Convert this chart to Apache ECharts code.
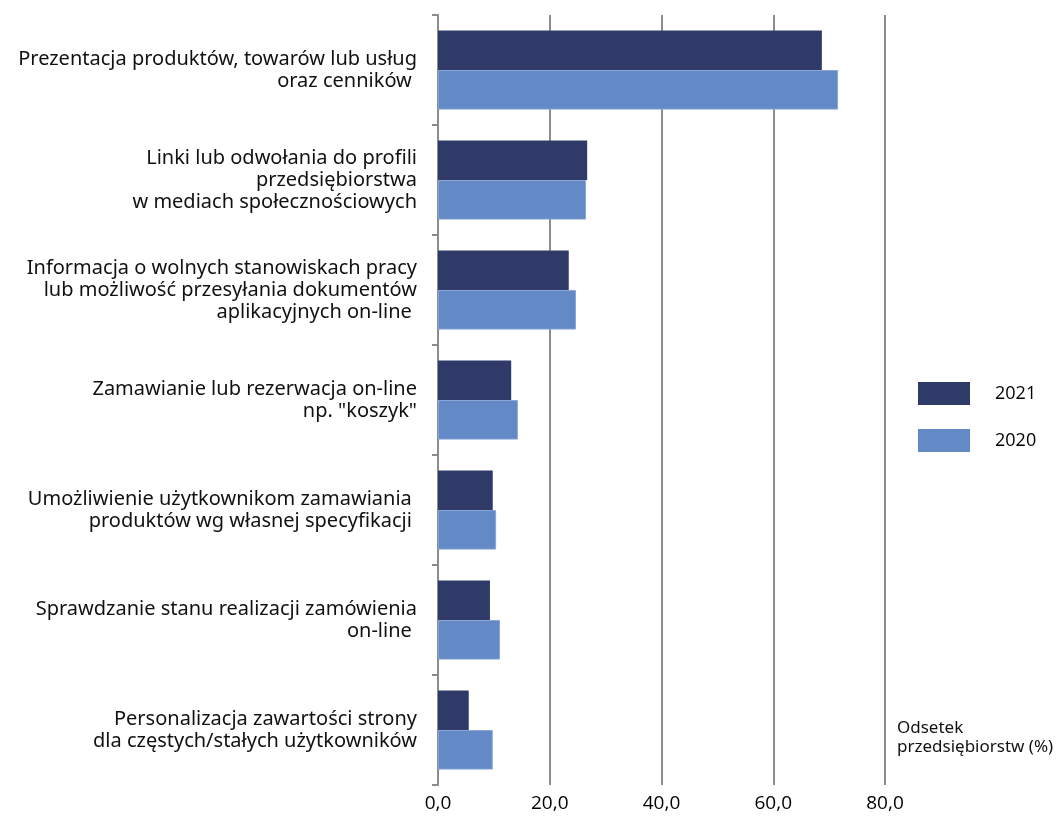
<!DOCTYPE html>
<html><head><meta charset="utf-8">
<script src="https://cdn.jsdelivr.net/npm/echarts@6/dist/echarts.min.js"></script>
<style>html,body{margin:0;padding:0;background:#fff}#c{width:1062px;height:818px}</style>
</head><body><div id="c"></div>
<script>
const categories = [
  "Prezentacja produktów, towarów lub usług\noraz cenników ",
  "Linki lub odwołania do profili\nprzedsiębiorstwa\nw mediach społecznościowych",
  "Informacja o wolnych stanowiskach pracy\nlub możliwość przesyłania dokumentów\naplikacyjnych on-line ",
  "Zamawianie lub rezerwacja on-line\nnp. \"koszyk\"",
  "Umożliwienie użytkownikom zamawiania \nproduktów wg własnej specyfikacji ",
  "Sprawdzanie stanu realizacji zamówienia\non-line ",
  "Personalizacja zawartości strony\ndla częstych/stałych użytkowników"
];
const values2021 = [68.7, 26.7, 23.4, 13.1, 9.8, 9.3, 5.5];
const values2020 = [71.6, 26.5, 24.7, 14.3, 10.4, 11.1, 9.8];
const xTicks = [0, 20, 40, 60, 80];

const chart = echarts.init(document.getElementById('c'));
chart.setOption({
  animation: false,
  grid: { left: 438, right: 177, top: 15, bottom: 33, containLabel: false },
  legend: {
    orient: 'vertical', left: 918, top: 382, padding: 0,
    icon: 'rect',
    itemWidth: 52, itemHeight: 23, itemGap: 24,
    itemStyle: { borderWidth: 0 },
    textStyle: { fontFamily: 'Open Sans', fontSize: 18, color: '#000', padding: [0,0,0,20] },
    data: ['2021', '2020']
  },
  graphic: [{
    type: 'text', left: 897, top: 719,
    style: { text: 'Odsetek\nprzedsiębiorstw (%)', font: '17px "Noto Sans"', fill: '#111', lineHeight: 19 }
  }],
  xAxis: {
    type: 'value', min: 0, max: 80, interval: 20,
    axisLine: { show: false }, axisTick: { show: false },
    axisLabel: { fontFamily: 'Open Sans', fontSize: 19, color: '#000', margin: 9,
      formatter: v => xTicks.includes(v) ? v.toFixed(1).replace('.', ',') : '' },
    splitLine: { show: true, lineStyle: { color: '#8c8c8c', width: 2 } }
  },
  yAxis: {
    type: 'category', inverse: true, data: categories,
    axisLine: { show: true, lineStyle: { color: '#8c8c8c', width: 2 } },
    axisTick: { show: true, length: 6, lineStyle: { color: '#8c8c8c', width: 2 } },
    axisLabel: { fontFamily: 'Noto Sans', fontSize: 20, color: '#111', lineHeight: 22, margin: 21, align: 'right' }
  },
  series: [
    { name: '2021', type: 'bar', data: values2021, barGap: '0%', barCategoryGap: '28%',
      itemStyle: { color: '#2f3a68' } },
    { name: '2020', type: 'bar', data: values2020, barGap: '0%', barCategoryGap: '28%',
      itemStyle: { color: '#6389c7', borderColor: '#8aa6d8', borderWidth: 1 } }
  ]
});
</script></body></html>
